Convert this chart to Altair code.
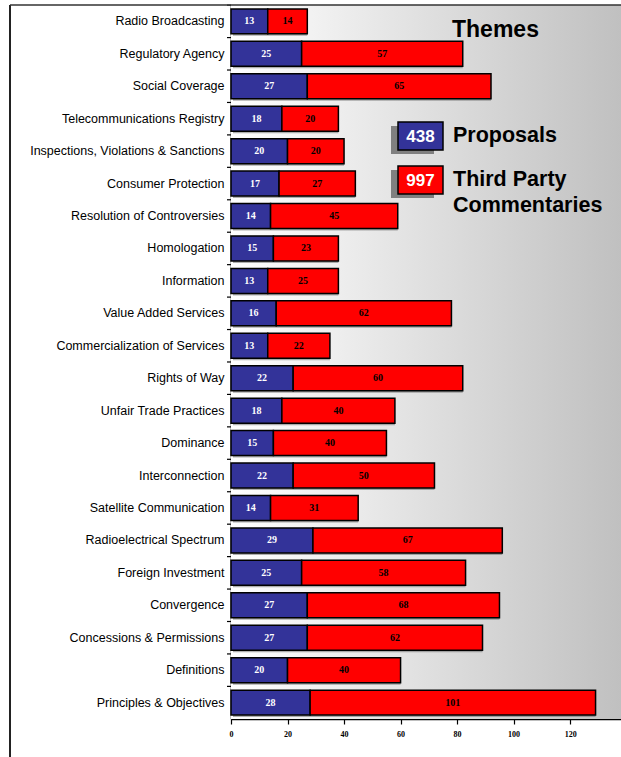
import altair as alt
import pandas as pd

categories = [
    "Radio Broadcasting", "Regulatory Agency", "Social Coverage",
    "Telecommunications Registry", "Inspections, Violations & Sanctions",
    "Consumer Protection", "Resolution of Controversies", "Homologation",
    "Information", "Value Added Services", "Commercialization of Services",
    "Rights of Way", "Unfair Trade Practices", "Dominance", "Interconnection",
    "Satellite Communication", "Radioelectrical Spectrum", "Foreign Investment",
    "Convergence", "Concessions & Permissions", "Definitions",
    "Principles & Objectives",
]
proposals = [13, 25, 27, 18, 20, 17, 14, 15, 13, 16, 13, 22, 18, 15, 22, 14, 29, 25, 27, 27, 20, 28]
commentaries = [14, 57, 65, 20, 20, 27, 45, 23, 25, 62, 22, 60, 40, 40, 50, 31, 67, 58, 68, 62, 40, 101]
x_ticks = [0, 20, 40, 60, 80, 100, 120]
legend_title = "Themes"
legend_names = ["Proposals", ["Third Party", "Commentaries"]]

BLUE = "#333399"
RED = "#ff0000"
W, H = 390, 714

df = pd.DataFrame({"theme": categories, "proposals": proposals, "commentaries": commentaries})

base = alt.Chart(df).transform_calculate(
    zero="0",
    total="datum.proposals + datum.commentaries",
    p_mid="datum.proposals / 2",
    c_mid="datum.proposals + datum.commentaries / 2",
)

xscale = alt.Scale(domain=[0, 138], nice=False, zero=True)
x_axis = alt.Axis(
    values=x_ticks, grid=False, domainColor="black", domainWidth=1.5,
    tickColor="black", tickSize=5, tickWidth=1.2, labelFont="Liberation Serif",
    labelFontWeight="bold", labelFontSize=8, labelColor="black", labelPadding=6,
    labelFlush=False,
)
yscale = alt.Scale(paddingInner=0.23, paddingOuter=0.12)
y_axis = alt.Axis(
    grid=False, domainColor="black", domainWidth=1.5, ticks=False,
    labelFont="Liberation Sans", labelFontSize=12.5, labelColor="black",
    labelPadding=7, labelLimit=400,
)


def X(field):
    return alt.X(field, type="quantitative", scale=xscale, axis=x_axis, title=None)


Y = alt.Y("theme:N", sort=categories, scale=yscale, axis=y_axis, title=None)

one = pd.DataFrame({"k": [0]})

background = alt.Chart(one).mark_rect(
    fill=alt.Gradient(
        gradient="linear", x1=0, x2=1, y1=0, y2=0,
        stops=[alt.GradientStop(offset=0, color="#ffffff"),
               alt.GradientStop(offset=1, color="#c0c0c0")],
    )
).encode(x=alt.value(0), x2=alt.value(W), y=alt.value(0), y2=alt.value(H))

shadow = base.mark_bar(color="#707070", opacity=0.55, xOffset=2, yOffset=2).encode(
    x=X("zero"), x2="total:Q", y=Y)
blue = base.mark_bar(color=BLUE, stroke="black", strokeWidth=1.5).encode(
    x=X("zero"), x2="proposals:Q", y=Y)
red = base.mark_bar(color=RED, stroke="black", strokeWidth=1.5).encode(
    x=X("proposals"), x2="total:Q", y=Y)
blue_txt = base.mark_text(font="Liberation Serif", fontWeight="bold", fontSize=10,
                          color="white").encode(x=X("p_mid"), y=Y, text="proposals:Q")
red_txt = base.mark_text(font="Liberation Serif", fontWeight="bold", fontSize=10,
                         color="black").encode(x=X("c_mid"), y=Y, text="commentaries:Q")

yticks = base.mark_rule(color="black", strokeWidth=1.2, yOffset=-3.75).encode(
    y=alt.Y("theme:N", sort=categories, scale=yscale, axis=y_axis, title=None, bandPosition=0),
    x=alt.value(-4), x2=alt.value(0))

frame_left = alt.Chart(one).mark_rule(color="#222222", strokeWidth=2).encode(
    x=alt.value(-221), y=alt.value(0), y2=alt.value(H + 60))
frame_top = alt.Chart(one).mark_rule(color="#333333", strokeWidth=1.5).encode(
    x=alt.value(-221), x2=alt.value(W + 10), y=alt.value(0))

title_txt = alt.Chart(one).mark_text(
    font="Liberation Sans", fontWeight="bold", fontSize=23, align="left",
    baseline="middle", color="black").encode(
    x=alt.value(221), y=alt.value(25), text=alt.value(legend_title))

legend_layers = []
for i, (name, color, total) in enumerate([
        (legend_names[0], BLUE, sum(proposals)),
        (legend_names[1], RED, sum(commentaries))]):
    top = 117 + 44 * i
    legend_layers.append(alt.Chart(one).mark_rect(color="#808080").encode(
        x=alt.value(160), x2=alt.value(203), y=alt.value(top + 4), y2=alt.value(top + 32)))
    legend_layers.append(alt.Chart(one).mark_rect(color=color, stroke="black", strokeWidth=1.5).encode(
        x=alt.value(167), x2=alt.value(212), y=alt.value(top), y2=alt.value(top + 28)))
    legend_layers.append(alt.Chart(one).mark_text(
        font="Liberation Sans", fontWeight="bold", fontSize=17, color="white",
        align="center", baseline="middle").encode(
        x=alt.value(189.5), y=alt.value(top + 14.5), text=alt.value(str(total))))
    legend_layers.append(alt.Chart(one).mark_text(
        font="Liberation Sans", fontWeight="bold", fontSize=21.5, color="black",
        align="left", baseline="middle", lineHeight=26).encode(
        x=alt.value(222), y=alt.value(top + 14), text=alt.value(name)))

chart = alt.layer(
    background, shadow, blue, red, blue_txt, red_txt, yticks,
    frame_left, frame_top, title_txt, *legend_layers,
).properties(
    width=W, height=H,
    autosize=alt.AutoSizeParams(type="none"),
    padding={"left": 231, "top": 5, "right": 0, "bottom": 38},
).configure_view(strokeWidth=0).configure(background="white")

chart.save("out.html", embed_options={"renderer": "svg", "actions": False})
